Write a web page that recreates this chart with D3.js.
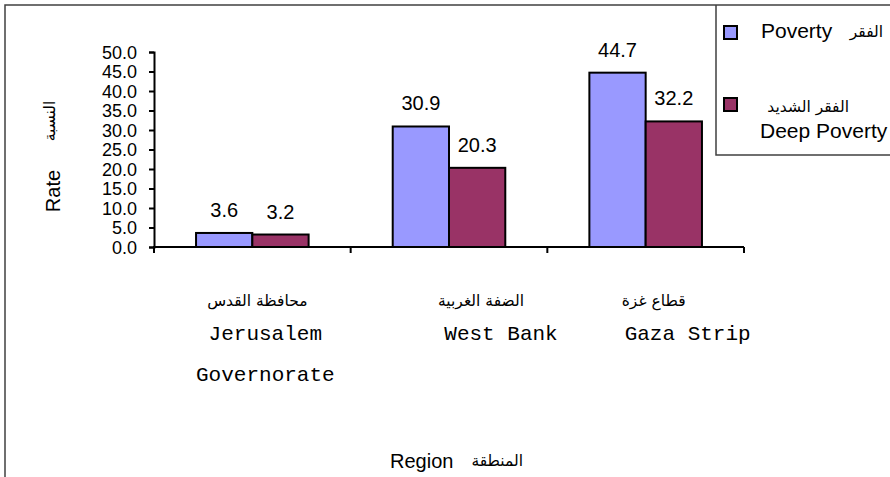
<!DOCTYPE html>
<html lang="en">
<meta charset="utf-8"/>
<body>
<svg id="chart" width="890" height="477"></svg>
</body>
<style>
  body { margin: 0; background: #fff; }
  text { font-family: "Liberation Sans", Arial, sans-serif; fill: #000; }
  .ar { font-family: "DejaVu Sans", sans-serif; font-size: 15.5px; }
  .mono { font-family: "Liberation Mono", "Courier New", monospace; font-size: 21px; }
  .bar { stroke: #000; stroke-width: 2; }
</style>
<script src="https://d3js.org/d3.v7.min.js"></script>
<script>
// data
let regionsAr = ["محافظة القدس", "الضفة الغربية", "قطاع غزة"]
let regionsEn = [["Jerusalem", "Governorate"], ["West Bank"], ["Gaza Strip"]]
let seriesEn = ["Poverty", "Deep Poverty"]
let seriesAr = ["الفقر", "الفقر الشديد"]
let poverty = [3.6, 30.9, 44.7]
let deepPoverty = [3.2, 20.3, 32.2]
let yTicks = [0, 5, 10, 15, 20, 25, 30, 35, 40, 45, 50]

let colors = ["#9999FF", "#993366"]
// small nudges for the category label blocks (layout only)
let enNudge = [13, 52, 42]
let arNudge = [5, 32, 8]

let svg = d3.select("#chart")
let plotLeft = 154, plotRight = 744, plotTop = 52, plotBottom = 247

let rows = regionsEn.map((r, i) => ({key: i, values: [poverty[i], deepPoverty[i]]}))

let xScale = d3.scaleBand()
  .domain(rows.map(d => d.key))
  .range([plotLeft, plotRight])
  .padding(0)

let xInner = d3.scaleBand()
  .domain([0, 1])
  .range([0, xScale.bandwidth()])
  .paddingInner(0)
  .paddingOuter(0.747)

let yScale = d3.scaleLinear()
  .domain([0, 50])
  .range([plotBottom, plotTop])

// frame
svg.append("path")
  .attr("d", "M5,477 L5,5 L890,5 M716,5 L716,155 L890,155")
  .attr("fill", "none")
  .attr("stroke", "#404040")
  .attr("stroke-width", 1.5)

// bars
let groups = svg.selectAll(".grp")
  .data(rows)
  .enter()
  .append("g")
  .attr("class", "grp")
  .attr("transform", d => "translate(" + xScale(d.key) + ",0)")

groups.selectAll("rect")
  .data(d => d.values)
  .enter()
  .append("rect")
  .attr("class", "bar")
  .attr("x", (v, i) => xInner(i))
  .attr("y", v => yScale(v))
  .attr("width", xInner.bandwidth())
  .attr("height", v => plotBottom - yScale(v))
  .attr("fill", (v, i) => colors[i])

groups.selectAll(".val")
  .data(d => d.values)
  .enter()
  .append("text")
  .attr("class", "val")
  .attr("x", (v, i) => xInner(i) + xInner.bandwidth() / 2)
  .attr("y", v => yScale(v) - 16)
  .attr("text-anchor", "middle")
  .style("font-size", "20px")
  .text(v => v.toFixed(1))

// y axis
let yAxis = svg.append("g")
  .attr("transform", "translate(" + plotLeft + ",0)")
  .call(d3.axisLeft(yScale).tickValues(yTicks).tickFormat(d3.format(".1f")).tickSize(5).tickPadding(12))
yAxis.select(".domain").attr("stroke", "#000").attr("stroke-width", 2)
yAxis.selectAll(".tick line").attr("stroke", "#000").attr("stroke-width", 2)
yAxis.selectAll(".tick text").style("font-size", "18px").style("font-family", "Liberation Sans, Arial, sans-serif").attr("fill", "#000").attr("dy", "0.36em")

// x axis: ticks at category boundaries
svg.append("line")
  .attr("x1", plotLeft - 1).attr("x2", plotRight)
  .attr("y1", plotBottom).attr("y2", plotBottom)
  .attr("stroke", "#000").attr("stroke-width", 2)
let bounds = rows.map(d => xScale(d.key)).concat([xScale(rows[rows.length - 1].key) + xScale.bandwidth()])
svg.append("g").selectAll("line")
  .data(bounds)
  .enter()
  .append("line")
  .attr("x1", d => d).attr("x2", d => d)
  .attr("y1", plotBottom).attr("y2", plotBottom + 6)
  .attr("stroke", "#000").attr("stroke-width", 2)

// category labels
rows.forEach((d, i) => {
  let cx = xScale(d.key) + xScale.bandwidth() / 2
  svg.append("text")
    .attr("class", "ar")
    .attr("direction", "rtl")
    .attr("text-anchor", "middle")
    .attr("x", cx + arNudge[i])
    .attr("y", 306)
    .text(regionsAr[i])
  regionsEn[i].forEach((line, j) => {
    svg.append("text")
      .attr("class", "mono")
      .attr("text-anchor", "middle")
      .attr("x", cx + enNudge[i])
      .attr("y", 340 + j * 41)
      .text(line)
  })
})

// axis titles
svg.append("text")
  .attr("transform", "translate(60,191) rotate(-90)")
  .attr("text-anchor", "middle")
  .style("font-size", "20px")
  .text("Rate")
svg.append("text")
  .attr("class", "ar")
  .attr("transform", "translate(55,121) rotate(-90)")
  .attr("text-anchor", "middle")
  .text("النسبة")
svg.append("text")
  .attr("x", 390).attr("y", 468)
  .style("font-size", "20px")
  .text("Region")
svg.append("text")
  .attr("class", "ar")
  .attr("x", 523).attr("y", 466)
  .attr("text-anchor", "end")
  .text("المنطقة")

// legend
let lg = svg.append("g")
lg.selectAll("rect")
  .data(seriesEn)
  .enter()
  .append("rect")
  .attr("x", 724)
  .attr("y", (d, i) => 26 + i * 72)
  .attr("width", 13).attr("height", 13)
  .attr("fill", (d, i) => colors[i])
  .attr("stroke", "#000").attr("stroke-width", 2)
lg.append("text").attr("x", 761).attr("y", 38).style("font-size", "21px").text(seriesEn[0])
lg.append("text").attr("class", "ar").attr("x", 883).attr("y", 37).attr("text-anchor", "end").text(seriesAr[0])
lg.append("text").attr("class", "ar").attr("x", 849).attr("y", 112).attr("text-anchor", "end").text(seriesAr[1])
lg.append("text").attr("x", 760).attr("y", 138).style("font-size", "21px").text(seriesEn[1])
</script>
</html>
